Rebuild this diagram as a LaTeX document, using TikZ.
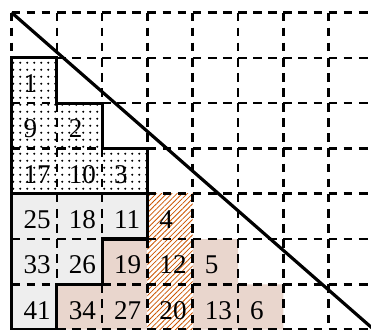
\documentclass[tikz,border=0pt]{standalone}
\usepackage{fontspec}
\setmainfont{Liberation Serif}
\usepackage{xcolor}
\usepackage{tikz}
\usetikzlibrary{patterns,patterns.meta}
\definecolor{beigecol}{RGB}{233,214,205}
\definecolor{hatchcol}{RGB}{204,85,0}
\tikzdeclarepattern{
  name=bigdots,
  type=uncolored,
  bottom left={(-2.1pt,-2.1pt)},
  top right={(2.1pt,2.1pt)},
  tile size={(4.2pt,4.2pt)},
  code={\fill (0pt,0pt) circle (0.75pt);}
}

\begin{document}
\begin{tikzpicture}[yscale=-1,
    every node/.style={font=\fontsize{17}{20}\selectfont, inner sep=0pt, anchor=base west},
    gridline/.style={line width=1.6pt, dash pattern=on 5.5pt off 3.985pt},
    edge/.style={line width=2pt, line join=miter}]
  \clip (-0.254,-0.276) rectangle (7.936,6.99);
  \fill[gray!13] (0,4) -- (3,4) -- (3,5) -| (2,6) -| (1,7) -- (0,7) -- cycle;
  \fill[beigecol] (2,5) rectangle (3,7) (1,6) rectangle (2,7) (4,5) rectangle (5,7) (5,6) rectangle (6,7);
  \fill[white] (3,4) rectangle (4,7);
  \fill[pattern={Lines[angle=45,distance=2.3pt,line width=0.5pt]}, pattern color=hatchcol] (3,4) rectangle (4,7);
  \fill[white] (0,1) -| (1,2) -| (2,3) -| (3,4) -- (0,4) -- cycle;
  \fill[pattern=bigdots] (0,1) -| (1,2) -| (2,3) -| (3,4) -- (0,4) -- cycle;
  \draw[gridline] (0,0) grid (8,7);
  \draw[edge] (0,1) -| (1,2) -| (2,3) -| (3,4) -- (0,4) -- cycle;
  \draw[edge] (0,4) -- (3,4) -- (3,5) -| (2,6) -| (1,7) -- (0,7) -- cycle;
  \draw[line width=2pt] (0,0) -- (8,7);
  \foreach \r in {1,...,6}{
    \pgfmathtruncatemacro{\last}{\r-1}
    \foreach \c in {0,...,\last}{
      \pgfmathtruncatemacro{\num}{8*(\r-1-\c)+\c+1}
      \node (n\num) at (\c+0.26,\r+0.77) {\num};
    }
  }
\end{tikzpicture}
\end{document}
